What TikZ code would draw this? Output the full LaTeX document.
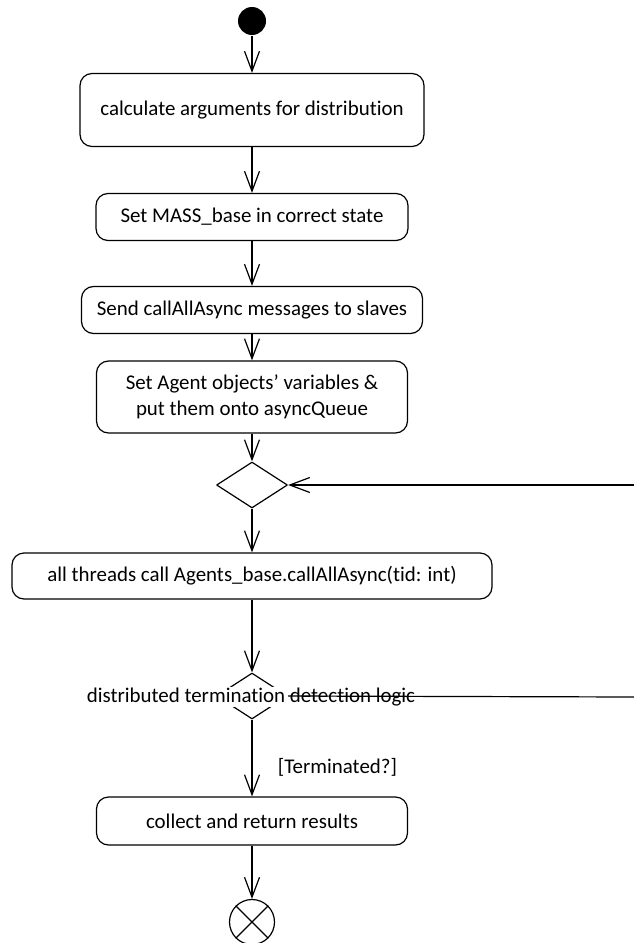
\documentclass[tikz,border=0pt]{standalone}
\usepackage{fontspec}
\setmainfont{Carlito}[Ligatures=NoCommon]
\usetikzlibrary{arrows.meta,shapes.geometric}

\begin{document}
\begin{tikzpicture}[x=1bp,y=-1bp,line join=bevel,
  >={Straight Barb[length=20bp,width=15bp]},
  every path/.style={line width=1.2bp},
  labelfont/.style={font=\fontsize{21}{26}\selectfont},
  action/.style={draw,rounded corners=12bp,inner sep=0pt,labelfont,align=center},
  choice/.style={draw,diamond,inner sep=0pt,minimum width=71bp,minimum height=46bp},
  flow/.style={->}]
\useasboundingbox (0,0) rectangle (634,943);
%%
  % Node: start
  \node (start) [circle,fill=black,inner sep=0pt,minimum size=28bp] at (252,21) {};
  % Node: args
  \node (args) [action,minimum width=344bp,minimum height=73bp] at (252,110) {calculate arguments for distribution};
  % Node: base
  \node (base) [action,minimum width=312bp,minimum height=47bp] at (252,217) {Set MASS\_base in correct state};
  % Node: send
  \node (send) [action,minimum width=341bp,minimum height=47bp] at (252,310) {Send callAllAsync messages to slaves};
  % Node: queue
  \node (queue) [action,minimum width=311bp,minimum height=72bp] at (252,397) {Set Agent objects’ variables \&\\put them onto asyncQueue};
  % Node: merge
  \node (merge) [choice] at (252,485) {};
  % Node: threads
  \node (threads) [action,minimum width=480bp,minimum height=46bp] at (252,576) {all threads call Agents\_base.callAllAsync(tid: int)};
  % Node: detect
  \node (detect) [choice] at (252,696) {};
  \node (detectlbl) [fill=white,inner sep=1bp,labelfont] at (251,697) {distributed termination detection logic};
  % Node: collect
  \node (collect) [action,minimum width=311bp,minimum height=48bp] at (252,821) {collect and return results};
  % Node: final
  \node (final) [circle,draw,inner sep=0pt,minimum size=45bp] at (252,922) {};
  \draw (final.north west) -- (final.south east);
  \draw (final.north east) -- (final.south west);
  % Loop ends (off the page)
  \coordinate (loopin) at (634,485);
  \coordinate (loopout) at (634,697);
%
  % Edge: start -> args
  \draw [flow] (start) -- (args);
  % Edge: args -> base
  \draw [flow] (args) -- (base);
  % Edge: base -> send
  \draw [flow] (base) -- (send);
  % Edge: send -> queue
  \draw [flow] (send) -- (queue);
  % Edge: queue -> merge
  \draw [flow] (queue) -- (merge);
  % Edge: loop -> merge
  \draw [flow] (loopin) -- (merge.east);
  % Edge: merge -> threads
  \draw [flow] (merge) -- (threads);
  % Edge: threads -> detect
  \draw [flow] (threads) -- (detect.north);
  % Edge: detect -> loop
  \draw (detect.east) -- (loopout);
  % Edge: detect -> collect
  \draw [flow] (detect.south) -- (collect) node [pos=0.62,anchor=west,xshift=22bp,labelfont] {[Terminated?]};
  % Edge: collect -> final
  \draw [flow] (collect) -- (final);
%
\end{tikzpicture}
\end{document}
